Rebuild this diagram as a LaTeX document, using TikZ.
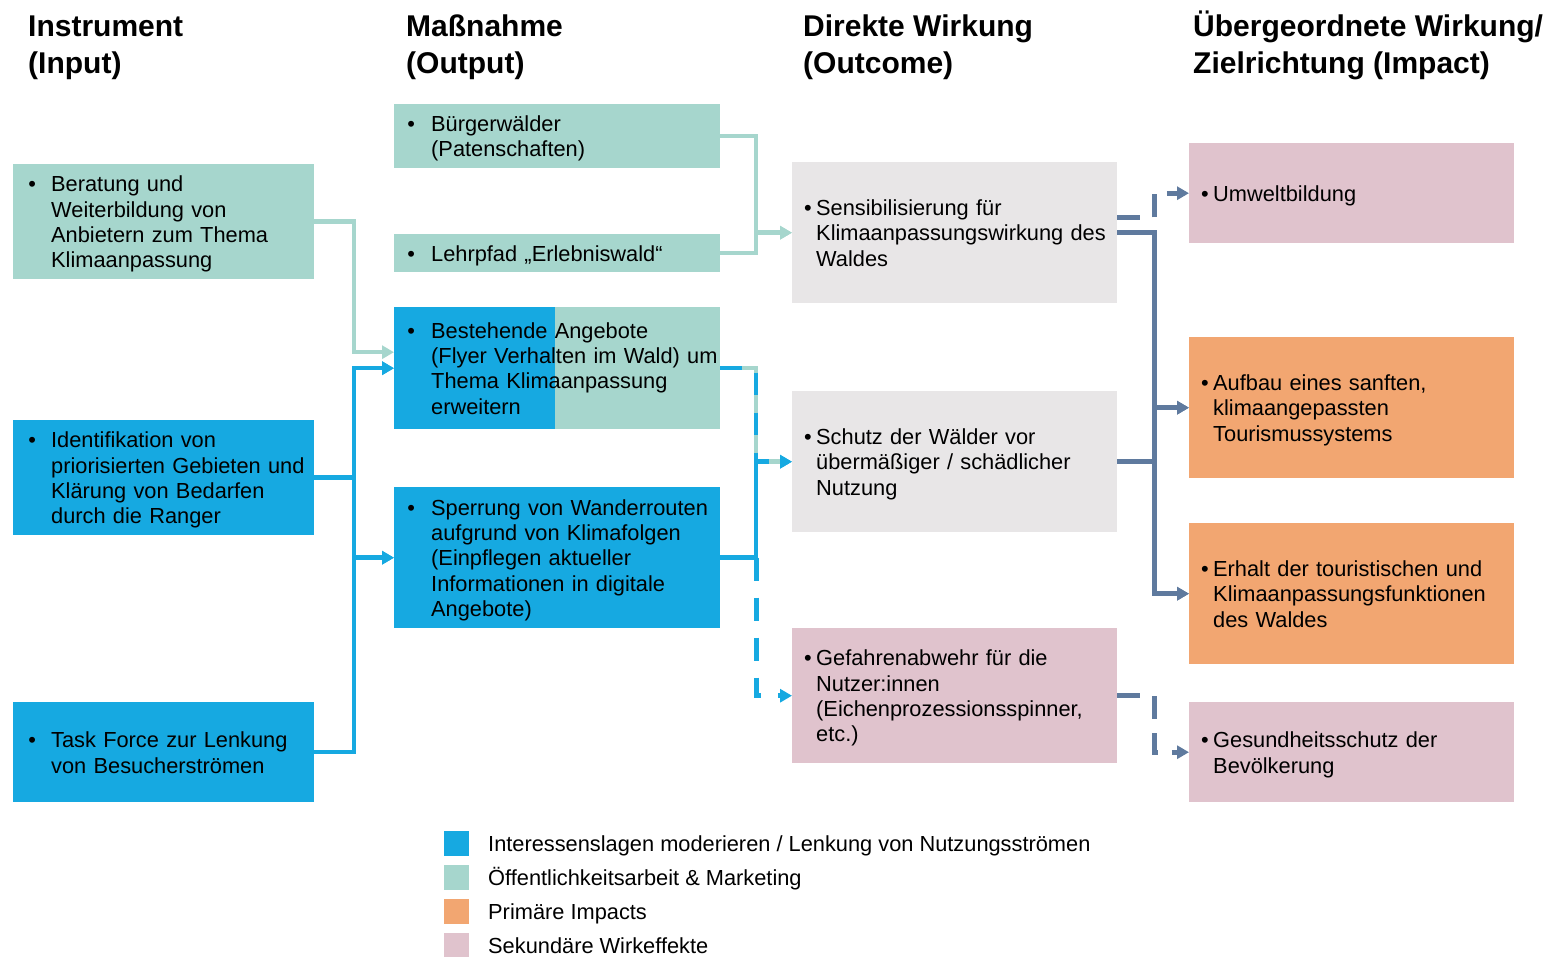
\documentclass[tikz,border=0pt]{standalone}
\usepackage{fontspec}
\setmainfont{Liberation Sans}
\usetikzlibrary{arrows.meta}
\definecolor{cteal}{HTML}{A6D6CD}
\definecolor{cblue}{HTML}{16A9E1}
\definecolor{cgray}{HTML}{E8E6E7}
\definecolor{cpink}{HTML}{E0C3CD}
\definecolor{corange}{HTML}{F2A671}
\definecolor{cslate}{HTML}{5F7A9E}
\newcommand\bitem[2]{\noindent\makebox[#1][l]{\rule{0pt}{23.8pt}\textbullet}\begin{tabular}[t]{@{}l@{}}#2\end{tabular}}
\newcommand\bodyfont{\fontsize{21.8pt}{25.4pt}\selectfont}
\newcommand\titlefont{\fontsize{30pt}{37.5pt}\selectfont\bfseries}
\begin{document}
\begin{tikzpicture}[x=1pt,y=-1pt,
  box/.style={rectangle, anchor=north west, inner ysep=0pt, align=left, font=\bodyfont},
  colA/.style={box, inner xsep=15.2pt, text width=270.6pt},
  colB/.style={box, inner xsep=13.2pt, text width=299.6pt},
  colC/.style={box, inner xsep=11.9pt, text width=301.2pt},
  tealline/.style={draw=cteal, line width=4.5pt},
  blueline/.style={draw=cblue, line width=4.5pt},
  slateline/.style={draw=cslate, line width=5pt},
  arrowtip/.style={-{Triangle[length=12pt,width=13pt]}},
  bluedash/.style={dash pattern=on 23pt off 17pt},
  mixdash/.style={dash pattern=on 22pt off 18pt},
  slatedash/.style={dash pattern=on 23pt off 14pt},
  title/.style={anchor=base west, inner sep=0pt, font=\titlefont},
  legsq/.style={rectangle, anchor=north west, inner sep=0pt, minimum width=25pt, minimum height=25pt},
  legtext/.style={anchor=base west, inner sep=0pt, font=\bodyfont},
]
\useasboundingbox (0,0) rectangle (1549,956);

% titles
\node[title] (t1) at (28,36) {\begin{tabular}[t]{@{}l@{}}Instrument\\(Input)\end{tabular}};
\node[title] (t2) at (406,36) {\begin{tabular}[t]{@{}l@{}}Maßnahme\\(Output)\end{tabular}};
\node[title] (t3) at (803,36) {\begin{tabular}[t]{@{}l@{}}Direkte Wirkung\\(Outcome)\end{tabular}};
\node[title] (t4) at (1193,36) {\begin{tabular}[t]{@{}l@{}}Übergeordnete Wirkung/\\Zielrichtung (Impact)\end{tabular}};

% column 1
\node[colA, fill=cteal, minimum height=115pt] (A1) at (13,164) {\bitem{22.8pt}{Beratung und\\Weiterbildung von\\Anbietern zum Thema\\Klimaanpassung}};
\node[colA, fill=cblue, minimum height=115pt] (A2) at (13,420) {\bitem{22.8pt}{Identifikation von\\priorisierten Gebieten und\\Klärung von Bedarfen\\durch die Ranger}};
\node[colA, fill=cblue, minimum height=100pt] (A3) at (13,702) {\bitem{22.8pt}{Task Force zur Lenkung\\von Besucherströmen}};

% column 2
\node[colB, fill=cteal, minimum height=64pt] (B1) at (394,104) {\bitem{23.8pt}{Bürgerwälder\\(Patenschaften)}};
\node[colB, fill=cteal, minimum height=38pt] (B2) at (394,234) {\bitem{23.8pt}{Lehrpfad „Erlebniswald“}};
\node[colB, minimum height=122pt,
  path picture={
    \fill[cblue] (path picture bounding box.north west) rectangle ([xshift=161pt]path picture bounding box.south west);
    \fill[cteal] ([xshift=161pt]path picture bounding box.north west) rectangle (path picture bounding box.south east);
  }] (B3) at (394,307) {\bitem{23.8pt}{Bestehende Angebote\\(Flyer Verhalten im Wald) um\\Thema Klimaanpassung\\erweitern}};
\node[colB, fill=cblue, minimum height=141pt] (B4) at (394,487) {\bitem{23.8pt}{Sperrung von Wanderrouten\\aufgrund von Klimafolgen\\(Einpflegen aktueller\\Informationen in digitale\\Angebote)}};

% column 3
\node[colC, fill=cgray, minimum height=141pt] (C1) at (792,162) {\bitem{12.1pt}{Sensibilisierung für\\Klimaanpassungswirkung des\\Waldes}};
\node[colC, fill=cgray, minimum height=141pt] (C2) at (792,391) {\bitem{12.1pt}{Schutz der Wälder vor\\übermäßiger / schädlicher\\Nutzung}};
\node[colC, fill=cpink, minimum height=135pt] (C3) at (792,628) {\bitem{12.1pt}{Gefahrenabwehr für die\\Nutzer:innen\\(Eichenprozessionsspinner,\\etc.)}};

% column 4
\node[colC, fill=cpink, minimum height=100pt] (D1) at (1189,143) {\bitem{12.1pt}{Umweltbildung}};
\node[colC, fill=corange, minimum height=141pt] (D2) at (1189,337) {\bitem{12.1pt}{Aufbau eines sanften,\\klimaangepassten\\Tourismussystems}};
\node[colC, fill=corange, minimum height=141pt] (D3) at (1189,523) {\bitem{12.1pt}{Erhalt der touristischen und\\Klimaanpassungsfunktionen\\des Waldes}};
\node[colC, fill=cpink, minimum height=100pt] (D4) at (1189,702) {\bitem{12.1pt}{Gesundheitsschutz der\\Bevölkerung}};

% connectors column 1 -> 2
\draw[tealline, arrowtip] (A1.east) -| ([xshift=-40pt,yshift=16pt]B3.west) -- ([yshift=16pt]B3.west);
\draw[blueline, arrowtip] (A2.east) -| ([xshift=-40pt]B3.west) -- (B3.west);
\draw[blueline, arrowtip] (A2.east) -| ([xshift=-40pt]B4.west) -- (B4.west);
\draw[blueline, arrowtip] (A3.east) -| ([xshift=-40pt]B3.west) -- (B3.west);
\draw[blueline, arrowtip] (A3.east) -| ([xshift=-40pt]B4.west) -- (B4.west);

% connectors column 2 -> 3
\draw[tealline, arrowtip] (B1.east) -| ([xshift=-36pt]C1.west) -- (C1.west);
\draw[tealline, arrowtip] (B2.east) -| ([xshift=-36pt]C1.west) -- (C1.west);
\draw[blueline, arrowtip] (B4.east) -| ([xshift=-36pt]C2.west) -- (C2.west);
\draw[tealline, shorten >=11pt] (B3.east) -| ([xshift=-36pt]C2.west) -- (C2.west);
\draw[blueline, mixdash, arrowtip] (B3.east) -| ([xshift=-36pt]C2.west) -- (C2.west);
\draw[blueline, bluedash, arrowtip] ([xshift=36pt]B4.east) |- (C3.west);

% connectors column 3 -> 4
\draw[slateline, slatedash, arrowtip] ([yshift=15pt]C1.east) -| ([xshift=-35pt]D1.west) -- (D1.west);
\draw[slateline, arrowtip] (C1.east) -| ([xshift=-35pt]D2.west) -- (D2.west);
\draw[slateline, arrowtip] (C1.east) -| ([xshift=-35pt]D3.west) -- (D3.west);
\draw[slateline, arrowtip] (C2.east) -| ([xshift=-35pt]D2.west) -- (D2.west);
\draw[slateline, arrowtip] (C2.east) -| ([xshift=-35pt]D3.west) -- (D3.west);
\draw[slateline, slatedash, arrowtip] (C3.east) -| ([xshift=-35pt]D4.west) -- (D4.west);

% legend
\node[legsq, fill=cblue] (L1) at (444,831) {};
\node[legsq, fill=cteal] (L2) at (444,865) {};
\node[legsq, fill=corange] (L3) at (444,899) {};
\node[legsq, fill=cpink] (L4) at (444,933) {};
\node[legtext] (T1) at (488,851) {Interessenslagen moderieren / Lenkung von Nutzungsströmen};
\node[legtext] (T2) at (488,885) {Öffentlichkeitsarbeit \& Marketing};
\node[legtext] (T3) at (488,919) {Primäre Impacts};
\node[legtext] (T4) at (488,953) {Sekundäre Wirkeffekte};
\end{tikzpicture}
\end{document}
